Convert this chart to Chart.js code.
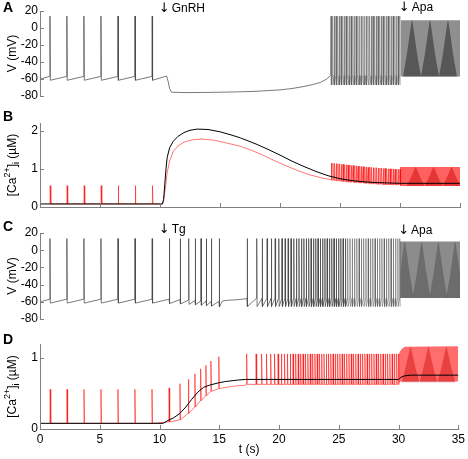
<!DOCTYPE html>
<html>
<head>
<meta charset="utf-8">
<script src="https://cdn.jsdelivr.net/npm/chart.js@4"></script>
<style>
  html, body { margin: 0; padding: 0; background: #fff; }
  #wrap { position: relative; width: 468px; height: 459px; }
  canvas { position: absolute; left: 0; }
</style>
</head>
<body>
<div id="wrap">
  <canvas id="cA" width="468" height="110" style="top:0px"></canvas>
  <canvas id="cB" width="468" height="110" style="top:110px"></canvas>
  <canvas id="cC" width="468" height="110" style="top:220px"></canvas>
  <canvas id="cD" width="468" height="129" style="top:330px"></canvas>
</div>
<script>
// ---- axes / ticks ----
const tTicks = [0, 5, 10, 15, 20, 25, 30, 35];
const vTicks = [-80, -60, -40, -20, 0, 20];
const caTicksB = [0, 1, 2];
const caTicksD = [0, 1];

// ---- spike times (s) ----
const spikesCtrl = [0.83, 2.24, 3.66, 5.08, 6.50, 7.92, 9.35];
const burstA = [24.25, 24.39, 24.53, 24.67, 24.81, 24.95, 25.09, 25.23, 25.37, 25.51, 25.65, 25.79,
  25.93, 26.07, 26.21, 26.35, 26.49, 26.63, 26.77, 26.91, 27.05, 27.19, 27.33, 27.47, 27.61, 27.75,
  27.89, 28.03, 28.17, 28.31, 28.45, 28.59, 28.73, 28.87, 29.01, 29.15, 29.29, 29.43, 29.57, 29.71,
  29.85, 29.98];
const spikesTg = [10.78, 11.69, 12.39, 12.94, 13.42, 13.86, 14.28, 14.94];
const burstC = [17.27, 18.06, 18.52, 18.93, 19.28, 19.60, 19.90, 20.17, 20.43, 20.68, 20.92, 21.15,
  21.37, 21.58, 21.79, 21.99, 22.19, 22.39, 22.59, 22.79, 22.98, 23.17, 23.36, 23.55, 23.74, 23.93,
  24.12, 24.31, 24.50, 24.69, 24.88, 25.07, 25.26, 25.45, 25.64, 25.83, 26.02, 26.21, 26.40, 26.59,
  26.78, 26.97, 27.16, 27.35, 27.54, 27.73, 27.92, 28.11, 28.30, 28.49, 28.68, 28.87, 29.06, 29.25,
  29.44, 29.63, 29.82, 29.98];

// ---- panel A: voltage (mV) ----
const vStart = -60, vPre = -57, vPeak = 14, vTrough = -61.5;
const silentA_t = [10.55, 10.68, 10.8, 10.95, 12, 14, 16, 18, 20, 21, 22, 22.8, 23.4, 23.9, 24.2];
const silentA_v = [-56.5, -63, -71, -75.5, -76, -75.8, -75.3, -74.5, -72.8, -71.2, -68.8, -66.3, -63.8, -60, -56];
const burstA_pre = -56, burstA_trough = -67;
const apaA_t = [30.05, 35];
const apaA_top = [9, 9];
const apaA_bot = [-57, -57];
const apaA_lobes = [31.0, 32.5, 34.0];

// ---- panel B: [Ca2+]i (uM), black and red ----
const caBase = 0.08, caPeakCtrl = 0.56;
const caB_t = [0, 10.2, 10.3, 10.4, 10.5, 10.6, 10.8, 11.1, 11.5, 12, 12.5, 13.1, 14, 15, 16, 16.7,
  18, 19, 20, 21, 22, 23, 24, 25, 26, 27, 28, 29, 30, 35];
const caB_black = [0.08, 0.08, 0.2, 0.6, 1.0, 1.3, 1.55, 1.72, 1.85, 1.95, 2.01, 2.04, 2.03, 1.97, 1.88, 1.81,
  1.65, 1.51, 1.36, 1.2, 1.06, 0.93, 0.82, 0.74, 0.69, 0.66, 0.64, 0.63, 0.62, 0.62];
const caB_redRise_t = [10.2, 10.3, 10.45, 10.6, 10.8, 11.1, 11.5, 12, 12.7, 13.5, 14.5, 15.5, 16.7,
  17.5, 18.5, 19.5, 20.5, 21.5, 22.5, 23.5, 24.2];
const caB_redRise = [0.08, 0.15, 0.5, 0.9, 1.2, 1.45, 1.6, 1.7, 1.76, 1.78, 1.75, 1.68, 1.59,
  1.5, 1.37, 1.22, 1.08, 0.95, 0.84, 0.76, 0.72];
const caB_burstPeak = [1.15, 1.15, 1.14, 1.14, 1.13, 1.13, 1.12, 1.12, 1.11, 1.11, 1.10, 1.10, 1.09, 1.09,
  1.08, 1.08, 1.07, 1.07, 1.06, 1.06, 1.05, 1.05, 1.04, 1.04, 1.04, 1.03, 1.03, 1.03, 1.02, 1.02, 1.02,
  1.01, 1.01, 1.01, 1.00, 1.00, 1.00, 1.00, 0.99, 0.99, 0.99, 0.99];
const caB_burstBase = [0.71, 0.70, 0.70, 0.69, 0.69, 0.68, 0.68, 0.67, 0.67, 0.66, 0.66, 0.65, 0.65, 0.65,
  0.64, 0.64, 0.64, 0.63, 0.63, 0.63, 0.62, 0.62, 0.62, 0.61, 0.61, 0.61, 0.61, 0.60, 0.60, 0.60, 0.60,
  0.59, 0.59, 0.59, 0.59, 0.59, 0.58, 0.58, 0.58, 0.58, 0.58, 0.58];
const apaB_t = [30.0, 35];
const apaB_top = [1.05, 1.05];
const apaB_bot = [0.55, 0.55];
const apaB_lobes = [31.3, 32.8, 34.3];

// ---- panel C: voltage (mV) ----
const tgPre = [-57, -57.5, -58, -58.5, -59, -59, -59.5, -59.5];
const tgTrough = [-62, -62.5, -63, -63.5, -64, -64.5, -65, -66];
const quietC_t = [15.2, 15.6, 16.5, 17.15];
const quietC_v = [-59, -58.3, -57.5, -56.5];
const vPeakC = 13.5, burstC_pre = -56, burstC_trough = -65.5;
const apaC_t = [30.0, 35];
const apaC_top = [10, 10];
const apaC_bot = [-55.5, -55.5];
const apaC_lobes = [30.4, 31.8, 33.2, 34.6];

// ---- panel D: [Ca2+]i (uM) ----
const caD_t = [0, 10.3, 10.7, 11.2, 11.7, 12.2, 12.7, 13.2, 13.7, 14.2, 14.9, 15.5, 16.5, 17.2, 30, 30.2, 30.5, 31, 35];
const caD_black = [0.08, 0.08, 0.12, 0.16, 0.22, 0.31, 0.42, 0.52, 0.59, 0.62, 0.65, 0.67, 0.69, 0.70, 0.70, 0.73, 0.75, 0.76, 0.76];
const caD_tgPeak = [0.58, 0.64, 0.70, 0.78, 0.85, 0.90, 0.96, 1.02];
const caD_tgBase = [0.10, 0.13, 0.22, 0.31, 0.40, 0.47, 0.53, 0.57];
const caD_redTail_t = [15.3, 16.0, 16.6, 17.2];
const caD_redTail = [0.58, 0.60, 0.61, 0.62];
const caD_burstPeak = 1.06, caD_burstBase = 0.63;
const apaD_t = [30.0, 30.2, 30.5, 35];
const apaD_top = [1.05, 1.12, 1.16, 1.17];
const apaD_bot = [0.66, 0.67, 0.67, 0.67];
const apaD_lobes = [31.0, 32.5, 34.0];

// ---------- helpers ----------
const at = (v, i) => Array.isArray(v) ? v[i] : v;
const xy = (ts, vs) => ts.map((t, i) => ({ x: t, y: vs[i] }));
function voltSpikes(pts, times, pre, peak, trough) {
  times.forEach((t, i) => {
    pts.push({ x: t - 0.02, y: at(pre, i) }, { x: t, y: at(peak, i) }, { x: t + 0.03, y: at(trough, i) });
  });
}
function caSpikes(pts, times, base, peak) {
  times.forEach((t, i) => {
    pts.push({ x: t, y: at(base, i) }, { x: t + 0.02, y: at(peak, i) }, { x: t + 0.07, y: at(base, i) });
  });
}
// moire "lobes" inside the dense apamin band (teardrop outline, relative units)
const lobeShape = [[-1, 0], [-0.8, 0.18], [-0.55, 0.42], [-0.3, 0.7], [-0.12, 0.9], [0, 1],
  [0.12, 0.9], [0.3, 0.7], [0.55, 0.42], [0.8, 0.18], [1, 0]];
function lobes(centers, bot, top, color, order) {
  return centers.map(c => ({
    data: lobeShape.map(([dx, dy]) => ({ x: Math.min(35, Math.max(30.05, c + dx * 0.75)), y: bot + dy * (top - bot) })),
    borderWidth: 0, backgroundColor: color, fill: { value: bot }, order, tension: 0.3
  }));
}
function band(ts, top, bot, color, order) {
  return [
    { data: xy(ts, top), borderWidth: 0, backgroundColor: color, fill: '+1', order },
    { data: xy(ts, bot), borderWidth: 0, fill: false, order }
  ];
}

// ---------- traces ----------
const traceA = [{ x: 0, y: vStart }];
voltSpikes(traceA, spikesCtrl, vPre, vPeak, vTrough);
traceA.push(...xy(silentA_t, silentA_v));
voltSpikes(traceA, burstA, burstA_pre, vPeak, burstA_trough);

const traceC = [{ x: 0, y: vStart }];
voltSpikes(traceC, spikesCtrl, vPre, vPeakC, vTrough);
voltSpikes(traceC, spikesTg, tgPre, vPeakC, tgTrough);
traceC.push(...xy(quietC_t, quietC_v));
voltSpikes(traceC, burstC, burstC_pre, vPeakC, burstC_trough);

const redB = [];
caSpikes(redB, spikesCtrl, caBase, caPeakCtrl);
redB.push(...xy(caB_redRise_t, caB_redRise));
caSpikes(redB, burstA, caB_burstBase, caB_burstPeak);

const redD = [];
caSpikes(redD, spikesCtrl, caBase, caPeakCtrl);
caSpikes(redD, spikesTg, caD_tgBase, caD_tgPeak);
redD.push(...xy(caD_redTail_t, caD_redTail));
caSpikes(redD, burstC, caD_burstBase, caD_burstPeak);

// ---------- look ----------
const FONT = '"Liberation Sans", Arial, Helvetica, sans-serif';
Chart.defaults.font.family = FONT;
Chart.defaults.font.size = 12;
Chart.defaults.color = '#000';
const gray = 'rgba(70,70,70,0.8)';
const grayBurst = 'rgba(80,80,80,0.55)';
const red = 'rgba(255,0,0,0.6)';
// lighter stroke once the trace turns into a dense burst
const burstShade = from => ({ borderColor: c => c.p0.parsed.x > from ? grayBurst : undefined });

// MATLAB-like axes: inward ticks, labels, titles, drug arrows
const matAxes = {
  id: 'matAxes',
  afterDraw(chart, args, o) {
    const { ctx, chartArea: a } = chart;
    const xs = chart.scales.x, ys = chart.scales.y;
    ctx.save();
    ctx.strokeStyle = '#808080';
    ctx.lineWidth = 1;
    ctx.beginPath();
    const lx = a.left + 0.5;
    ctx.moveTo(lx, a.top);
    ctx.lineTo(lx, a.bottom + 1);
    ys.ticks.forEach(t => {
      const py = Math.round(ys.getPixelForValue(t.value)) + 0.5;
      ctx.moveTo(a.left, py); ctx.lineTo(a.left + 4, py);
    });
    if (o.xAxis) {
      const by = a.bottom + 0.5;
      ctx.moveTo(a.left, by); ctx.lineTo(a.right + 1, by);
      tTicks.forEach(v => {
        const px = Math.round(xs.getPixelForValue(v)) + 0.5;
        ctx.moveTo(px, a.bottom); ctx.lineTo(px, a.bottom - 4);
      });
    }
    ctx.stroke();

    ctx.fillStyle = '#000';
    ctx.font = 'bold 14px ' + FONT;
    ctx.textAlign = 'left';
    ctx.textBaseline = 'alphabetic';
    ctx.fillText(o.letter, 3, o.letterY);

    (o.notes || []).forEach(n => {
      const px = xs.getPixelForValue(n.t);
      ctx.font = '13px "DejaVu Sans", sans-serif';
      ctx.textAlign = 'center';
      ctx.fillText('\u2193', px, n.y);
      ctx.font = '12px ' + FONT;
      ctx.textAlign = 'left';
      ctx.fillText(n.text, px + 7.5, n.y);
    });

    // y title, rotated
    ctx.translate(o.titleX, (a.top + a.bottom) / 2);
    ctx.rotate(-Math.PI / 2);
    ctx.textBaseline = 'middle';
    if (o.ca) {
      const parts = [['[Ca', 12, 0], ['2+', 9, -5], [']', 12, 0], ['i', 9, 4], [' (\u00b5M)', 12, 0]];
      let w = 0;
      parts.forEach(p => { ctx.font = p[1] + 'px ' + FONT; w += ctx.measureText(p[0]).width; });
      let x = -w / 2;
      ctx.textAlign = 'left';
      parts.forEach(p => {
        ctx.font = p[1] + 'px ' + FONT;
        ctx.fillText(p[0], x, p[2]);
        x += ctx.measureText(p[0]).width;
      });
    } else {
      ctx.textAlign = 'center';
      ctx.font = '12px ' + FONT;
      ctx.fillText(o.yTitle, 0, 0);
    }
    ctx.restore();

    if (o.xTitle) {
      ctx.save();
      ctx.font = '12px ' + FONT;
      ctx.textAlign = 'center';
      ctx.textBaseline = 'middle';
      ctx.fillStyle = '#000';
      ctx.fillText(o.xTitle, (a.left + a.right) / 2, o.xTitleY);
      ctx.restore();
    }
  }
};

function makeChart(id, datasets, cfg) {
  return new Chart(document.getElementById(id), {
    type: 'line',
    data: { datasets },
    plugins: [matAxes],
    options: {
      responsive: false,
      animation: false,
      events: [],
      parsing: false,
      layout: { padding: { left: 0, right: 8, top: cfg.padTop, bottom: cfg.padBottom } },
      elements: { point: { radius: 0 }, line: { borderWidth: 1, tension: 0 } },
      plugins: { legend: { display: false }, tooltip: { enabled: false }, matAxes: cfg.axes },
      scales: {
        x: {
          type: 'linear', min: 0, max: 35,
          display: cfg.xDisplay,
          grid: { display: false, drawTicks: false },
          border: { display: false },
          ticks: { display: !!cfg.xLabels, padding: 3, maxRotation: 0, autoSkip: false },
          afterBuildTicks: s => { s.ticks = tTicks.map(v => ({ value: v })); },
          afterFit: s => { s.height = cfg.xHeight || 0; }
        },
        y: {
          type: 'linear', min: cfg.yMin, max: cfg.yMax,
          grid: { display: false, drawTicks: false },
          border: { display: false },
          ticks: { padding: 2, autoSkip: false },
          afterBuildTicks: s => { s.ticks = cfg.yTicks.map(v => ({ value: v })); },
          afterFit: s => { s.width = 40; }
        }
      }
    }
  });
}

// Panel A
makeChart('cA', [
  { data: traceA, borderColor: gray, borderWidth: 0.9, segment: burstShade(24.1), order: 1 },
  ...lobes(apaA_lobes, apaA_bot[0], apaA_top[0], 'rgba(50,50,50,0.6)', 2),
  ...band(apaA_t, apaA_top, apaA_bot, '#8f8f8f', 3)
], {
  padTop: 11, padBottom: 14, xDisplay: false, yMin: -80, yMax: 20, yTicks: vTicks,
  axes: { letter: 'A', letterY: 12, titleX: 12.5, yTitle: 'V (mV)',
          notes: [{ t: 10.35, text: 'GnRH', y: 12 }, { t: 30.35, text: 'Apa', y: 11 }] }
});

// Panel B
makeChart('cB', [
  { data: xy(caB_t, caB_black), borderColor: '#000', order: 1 },
  { data: redB, borderColor: red, borderWidth: 0.9, order: 2 },
  ...lobes(apaB_lobes, apaB_bot[0], apaB_top[0], 'rgba(200,0,0,0.45)', 3),
  ...band(apaB_t, apaB_top, apaB_bot, 'rgba(255,30,30,0.7)', 4)
], {
  padTop: 13, padBottom: 13, xDisplay: true, xLabels: false, xHeight: 0, yMin: 0, yMax: 2.2, yTicks: caTicksB,
  axes: { letter: 'B', letterY: 11, titleX: 13, ca: true, xAxis: true }
});

// Panel C
makeChart('cC', [
  { data: traceC, borderColor: gray, borderWidth: 0.9, segment: burstShade(25.5), order: 1 },
  ...lobes(apaC_lobes, apaC_bot[0], apaC_top[0], 'rgba(60,60,60,0.4)', 2),
  ...band(apaC_t, apaC_top, apaC_bot, '#8c8c8c', 3)
], {
  padTop: 13, padBottom: 11, xDisplay: false, yMin: -80, yMax: 20, yTicks: vTicks,
  axes: { letter: 'C', letterY: 11, titleX: 12.5, yTitle: 'V (mV)',
          notes: [{ t: 10.35, text: 'Tg', y: 13 }, { t: 30.3, text: 'Apa', y: 14 }] }
});

// Panel D
makeChart('cD', [
  { data: xy(caD_t, caD_black), borderColor: '#000', order: 1 },
  { data: redD, borderColor: red, borderWidth: 0.9, order: 2 },
  ...lobes(apaD_lobes, apaD_bot[0], apaD_top[2], 'rgba(200,0,0,0.4)', 3),
  ...band(apaD_t, apaD_top, apaD_bot, 'rgba(255,40,40,0.68)', 4)
], {
  padTop: 14, padBottom: 0, xDisplay: true, xLabels: true, xHeight: 30, yMin: 0, yMax: 1.2, yTicks: caTicksD,
  axes: { letter: 'D', letterY: 13.5, titleX: 13, ca: true, xAxis: true, xTitle: 't (s)', xTitleY: 120 }
});
</script>
</body>
</html>
